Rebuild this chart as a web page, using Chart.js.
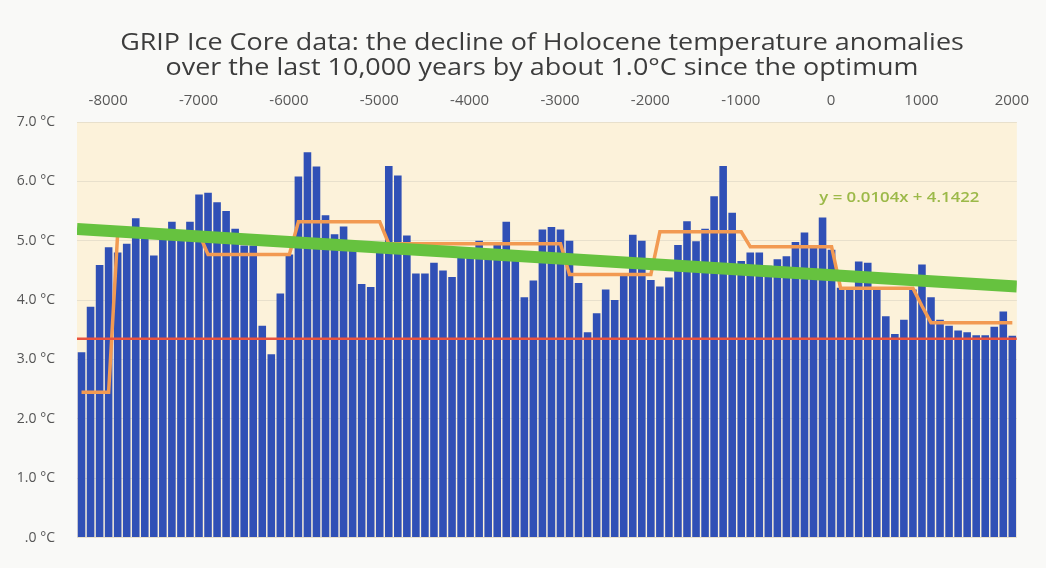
<!DOCTYPE html>
<html lang="en">
<head>
<meta charset="UTF-8">
<title>GRIP Ice Core data</title>
<script src="https://cdn.jsdelivr.net/npm/chart.js"></script>
<style>
  html, body { margin: 0; padding: 0; background: #f9f9f7; }
  #wrap { width: 1046px; height: 568px; }
</style>
</head>
<body>
<div id="wrap"><canvas id="gripChart"></canvas></div>
<script>
// one bar per century (centre year)
const years = [
  -8350, -8250, -8150, -8050, -7950, -7850, -7750, -7650, -7550, -7450,
  -7350, -7250, -7150, -7050, -6950, -6850, -6750, -6650, -6550, -6450,
  -6350, -6250, -6150, -6050, -5950, -5850, -5750, -5650, -5550, -5450,
  -5350, -5250, -5150, -5050, -4950, -4850, -4750, -4650, -4550, -4450,
  -4350, -4250, -4150, -4050, -3950, -3850, -3750, -3650, -3550, -3450,
  -3350, -3250, -3150, -3050, -2950, -2850, -2750, -2650, -2550, -2450,
  -2350, -2250, -2150, -2050, -1950, -1850, -1750, -1650, -1550, -1450,
  -1350, -1250, -1150, -1050, -950, -850, -750, -650, -550, -450,
  -350, -250, -150, -50, 50, 150, 250, 350, 450, 550,
  650, 750, 850, 950, 1050, 1150, 1250, 1350, 1450, 1550,
  1650, 1750, 1850, 1950
];

// temperature per century, degC
const temps = [
  3.12, 3.89, 4.59, 4.89, 4.80, 4.95, 5.38, 5.10, 4.75, 5.05,
  5.32, 5.10, 5.32, 5.78, 5.81, 5.65, 5.50, 5.20, 4.92, 4.92,
  3.57, 3.09, 4.11, 4.77, 6.08, 6.49, 6.25, 5.43, 5.11, 5.24,
  4.95, 4.27, 4.22, 4.85, 6.26, 6.10, 5.09, 4.45, 4.45, 4.63,
  4.50, 4.39, 4.72, 4.72, 5.00, 4.72, 4.97, 5.32, 4.66, 4.05,
  4.33, 5.19, 5.23, 5.19, 5.00, 4.29, 3.46, 3.78, 4.18, 4.00,
  4.45, 5.10, 5.00, 4.34, 4.23, 4.38, 4.93, 5.33, 4.99, 5.20,
  5.75, 6.26, 5.47, 4.66, 4.80, 4.80, 4.58, 4.69, 4.74, 4.98,
  5.14, 4.90, 5.39, 4.85, 4.21, 4.20, 4.65, 4.63, 4.20, 3.73,
  3.43, 3.67, 4.18, 4.60, 4.05, 3.67, 3.57, 3.49, 3.46, 3.41,
  3.41, 3.55, 3.81, 3.40
];

// orange stepped means, read per bar
const stepMeans = [
  2.45, 2.45, 2.45, 2.45, 5.12, 5.12, 5.12, 5.12, 5.12, 5.12,
  5.12, 5.12, 5.12, 5.12, 4.77, 4.77, 4.77, 4.77, 4.77, 4.77,
  4.77, 4.77, 4.77, 4.77, 5.32, 5.32, 5.32, 5.32, 5.32, 5.32,
  5.32, 5.32, 5.32, 5.32, 4.95, 4.95, 4.95, 4.95, 4.95, 4.95,
  4.95, 4.95, 4.95, 4.95, 4.95, 4.95, 4.95, 4.95, 4.95, 4.95,
  4.95, 4.95, 4.95, 4.95, 4.43, 4.43, 4.43, 4.43, 4.43, 4.43,
  4.43, 4.43, 4.43, 4.43, 5.15, 5.15, 5.15, 5.15, 5.15, 5.15,
  5.15, 5.15, 5.15, 5.15, 4.90, 4.90, 4.90, 4.90, 4.90, 4.90,
  4.90, 4.90, 4.90, 4.90, 4.20, 4.20, 4.20, 4.20, 4.20, 4.20,
  4.20, 4.20, 4.20, 3.90, 3.62, 3.62, 3.62, 3.62, 3.62, 3.62,
  3.62, 3.62, 3.62, 3.62
];

// straight lines: ends on the year axis
const lineYears = [-8400, 2000];
const trendEnds = [5.20, 4.23];
const redLevel = [3.35, 3.35];
const trendText = 'y = 0.0104x + 4.1422';

const yearTicks = [-8000, -7000, -6000, -5000, -4000, -3000, -2000, -1000, 0, 1000, 2000];

const titleLines = [
    'GRIP Ice Core data: the decline of Holocene temperature anomalies',
    'over the last 10,000 years by about 1.0°C since the optimum'
];

const points = (xs, ys) => xs.map((x, i) => ({x: x, y: ys[i]}));

// text drawn a bit wider than the font, like the original picture
function wideText(ctx, text, x, y, stretch) {
    ctx.save();
    ctx.translate(x, y);
    ctx.scale(stretch, 1);
    ctx.fillText(text, 0, 0);
    ctx.restore();
}

const plotBg = {
    id: 'plotBg',
    beforeDraw(chart) {
        const {ctx, chartArea: a} = chart;
        ctx.save();
        ctx.fillStyle = '#fcf2da';
        ctx.fillRect(a.left, a.top, a.right - a.left, a.bottom - a.top);
        ctx.restore();
    }
};

const textBits = {
    id: 'textBits',
    afterDatasetsDraw(chart) {
        const {ctx, scales} = chart;
        ctx.save();
        ctx.font = '600 14px "Open Sans"';
        ctx.fillStyle = '#9cb949';
        ctx.textAlign = 'center';
        ctx.textBaseline = 'middle';
        wideText(ctx, trendText, scales.x.getPixelForValue(700), scales.y.getPixelForValue(5.72), 1.2);
        ctx.restore();
    },
    afterDraw(chart) {
        const ctx = chart.ctx;
        const cx = chart.width / 2 + 19;
        ctx.save();
        ctx.font = '23px "Open Sans"';
        ctx.fillStyle = '#3c3c3c';
        ctx.textAlign = 'center';
        ctx.textBaseline = 'middle';
        wideText(ctx, titleLines[0], cx, 43, 1.17);
        wideText(ctx, titleLines[1], cx, 68, 1.17);
        ctx.restore();
    }
};

new Chart(document.getElementById('gripChart'), {
    type: 'bar',
    data: {
        datasets: [
            {
                type: 'line',
                label: 'Mean',
                data: points(lineYears, redLevel),
                borderColor: '#e9533e',
                borderWidth: 2.5,
                pointRadius: 0,
                order: 0
            },
            {
                type: 'line',
                label: 'Trend',
                data: points(lineYears, trendEnds),
                borderColor: '#66c23f',
                borderWidth: 12,
                pointRadius: 0,
                order: 1
            },
            {
                type: 'line',
                label: 'Step means',
                data: points(years, stepMeans),
                borderColor: '#f29a52',
                borderWidth: 3.5,
                pointRadius: 0,
                tension: 0,
                order: 2
            },
            {
                label: 'Temperature',
                data: points(years, temps),
                backgroundColor: '#3050b6',
                grouped: false,
                barPercentage: 0.84,
                categoryPercentage: 1,
                order: 3
            }
        ]
    },
    options: {
        responsive: true,
        maintainAspectRatio: false,
        animation: false,
        layout: {padding: {left: 0, right: 19, top: 84, bottom: 8}},
        plugins: {
            legend: {display: false},
            tooltip: {enabled: false},
            title: {display: false}
        },
        scales: {
            x: {
                type: 'linear',
                position: 'top',
                offset: false,
                min: -8400,
                max: 2000,
                afterBuildTicks: scale => { scale.ticks = yearTicks.map(v => ({value: v})); },
                afterFit: scale => { scale.height = 38; },
                grid: {display: false, drawTicks: false},
                border: {display: false},
                ticks: {
                    padding: 12,
                    labelOffset: -5,
                    color: '#595959',
                    font: {family: '"Open Sans"', size: 15},
                    callback: v => String(v)
                }
            },
            y: {
                min: 0,
                max: 7,
                afterFit: scale => { scale.width = 77; },
                grid: {color: '#e8e0cc', drawTicks: false},
                border: {display: false},
                ticks: {
                    stepSize: 1,
                    padding: 22,
                    color: '#555',
                    font: {family: '"Open Sans"', size: 14},
                    callback: v => (v === 0 ? '.0' : v.toFixed(1)) + ' °C'
                }
            }
        }
    },
    plugins: [plotBg, textBits]
});
</script>
</body>
</html>
